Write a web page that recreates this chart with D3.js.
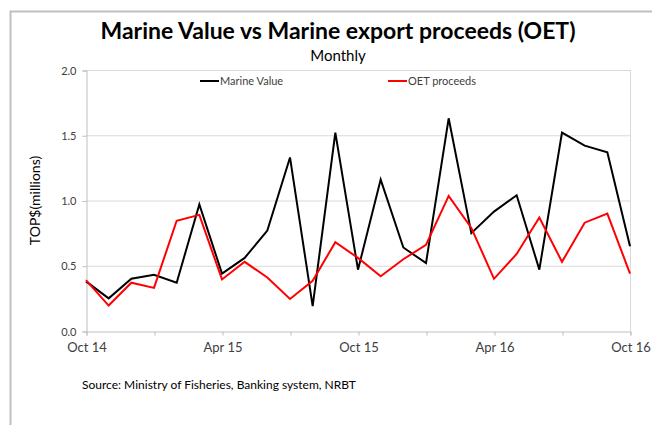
<html>
  <head>
    <title>Marine Value vs OET</title>
  </head>
  <body style="margin:0;background:#fff">
  </body>

  <script src="https://d3js.org/d3.v7.min.js" charset="utf-8"></script>
  <script type="text/javascript">

// months from Oct 14 to Oct 16
var months = ['Oct 14','Nov 14','Dec 14','Jan 15','Feb 15','Mar 15','Apr 15','May 15','Jun 15',
  'Jul 15','Aug 15','Sep 15','Oct 15','Nov 15','Dec 15','Jan 16','Feb 16','Mar 16','Apr 16',
  'May 16','Jun 16','Jul 16','Aug 16','Sep 16','Oct 16'];

var marine_value = [0.38, 0.25, 0.40, 0.43, 0.37, 0.97, 0.44, 0.56, 0.77, 1.33, 0.19, 1.52, 0.47,
  1.16, 0.64, 0.52, 1.63, 0.75, 0.915, 1.04, 0.47, 1.52, 1.42, 1.37, 0.65];

var oet_proceeds = [0.39, 0.195, 0.37, 0.33, 0.845, 0.89, 0.395, 0.53, 0.41, 0.245, 0.385, 0.68, 0.56,
  0.42, 0.55, 0.66, 1.035, 0.79, 0.40, 0.59, 0.87, 0.53, 0.83, 0.90, 0.44];

var y_ticks = [0, 0.5, 1.0, 1.5, 2.0];
var x_labels = ['Oct 14', 'Apr 15', 'Oct 15', 'Apr 16', 'Oct 16'];

var w = 652, h = 425;
// plot area edges (avoid the name "top", it is window.top)
var pl = 86, pr = 630, pt = 70, pb = 331;
var font = 'Lato, "Open Sans", sans-serif';

var svg = d3.select('body').append('svg')
    .attr('width', w)
    .attr('height', h)
    .style('font-family', font);

// outer frame (left + top only visible)
svg.append('path')
    .attr('d', 'M10.5,' + h + ' L10.5,11.5 L' + w + ',11.5')
    .attr('fill', 'none')
    .attr('stroke', '#bfbfbf')
    .attr('stroke-width', 2);

var x = d3.scalePoint()
    .domain(months)
    .range([pl, pr]);

var y = d3.scaleLinear()
    .domain([0, 2])
    .range([pb, pt]);

// gridlines
svg.selectAll('.grid')
    .data(y_ticks.slice(1))
    .enter()
    .append('line')
    .attr('x1', pl)
    .attr('x2', pr)
    .attr('y1', function(d){ return y(d) + 0.5; })
    .attr('y2', function(d){ return y(d) + 0.5; })
    .attr('stroke', '#d9d9d9')
    .attr('stroke-width', 1);

// right border of plot area
svg.append('line')
    .attr('x1', pr + 0.5).attr('x2', pr + 0.5)
    .attr('y1', pt).attr('y2', pb)
    .attr('stroke', '#d9d9d9');

// y axis
var yAxis = d3.axisLeft(y)
    .tickValues(y_ticks)
    .tickFormat(d3.format('.1f'))
    .tickSize(4)
    .tickPadding(6);

var gy = svg.append('g')
    .attr('transform', 'translate(' + (pl + 0.5) + ',0.5)')
    .call(yAxis);

// x axis: ticks every 3 months, labels every 6
var xAxis = d3.axisBottom(x)
    .tickValues(months.filter(function(d, i){ return i % 3 == 0; }))
    .tickFormat(function(d){ return x_labels.indexOf(d) >= 0 ? d : ''; })
    .tickSize(4)
    .tickPadding(7);

var gx = svg.append('g')
    .attr('transform', 'translate(0.5,' + (pb + 0.5) + ')')
    .call(xAxis);

[gx, gy].forEach(function(g){
  g.selectAll('.domain').attr('stroke', '#bfbfbf');
  g.selectAll('.tick line').attr('stroke', '#bfbfbf');
  g.selectAll('.tick text')
    .attr('fill', '#404040')
    .style('font-family', font);
});
gy.selectAll('.tick text').style('font-size', '11px');
gx.selectAll('.tick text').style('font-size', '13px');

// lines
var line = d3.line()
    .x(function(d, i){ return x(months[i]); })
    .y(function(d){ return y(d); });

svg.append('path')
    .datum(marine_value)
    .attr('d', line)
    .attr('fill', 'none')
    .attr('stroke', '#000')
    .attr('stroke-width', 2)
    .attr('stroke-linejoin', 'miter');

svg.append('path')
    .datum(oet_proceeds)
    .attr('d', line)
    .attr('fill', 'none')
    .attr('stroke', '#ff0000')
    .attr('stroke-width', 2)
    .attr('stroke-linejoin', 'miter');

// legend
var legend = [
  {name: 'Marine Value', color: '#000', x: 200},
  {name: 'OET proceeds', color: '#ff0000', x: 388}
];
var lg = svg.selectAll('.legend')
    .data(legend)
    .enter()
    .append('g')
    .attr('transform', function(d){ return 'translate(' + d.x + ',81)'; });
lg.append('line')
    .attr('x1', 0).attr('x2', 19)
    .attr('stroke', function(d){ return d.color; })
    .attr('stroke-width', 2);
lg.append('text')
    .attr('x', 20)
    .attr('dy', '0.35em')
    .attr('fill', '#404040')
    .style('font-size', '11px')
    .text(function(d){ return d.name; });

// titles
svg.append('text')
    .attr('x', 338)
    .attr('y', 39)
    .attr('text-anchor', 'middle')
    .style('font-size', '23px')
    .style('font-weight', 'bold')
    .attr('fill', '#000')
    .text('Marine Value vs Marine export proceeds (OET)');

svg.append('text')
    .attr('x', 338)
    .attr('y', 61)
    .attr('text-anchor', 'middle')
    .style('font-size', '15px')
    .attr('fill', '#000')
    .text('Monthly');

svg.append('text')
    .attr('transform', 'translate(40,' + ((pt + pb) / 2) + ') rotate(-90)')
    .attr('text-anchor', 'middle')
    .style('font-size', '14px')
    .attr('fill', '#000')
    .text('TOP$(millions)');

svg.append('text')
    .attr('x', 82)
    .attr('y', 389)
    .style('font-size', '12px')
    .attr('fill', '#000')
    .text('Source: Ministry of Fisheries, Banking system, NRBT');

  </script>
</html>
